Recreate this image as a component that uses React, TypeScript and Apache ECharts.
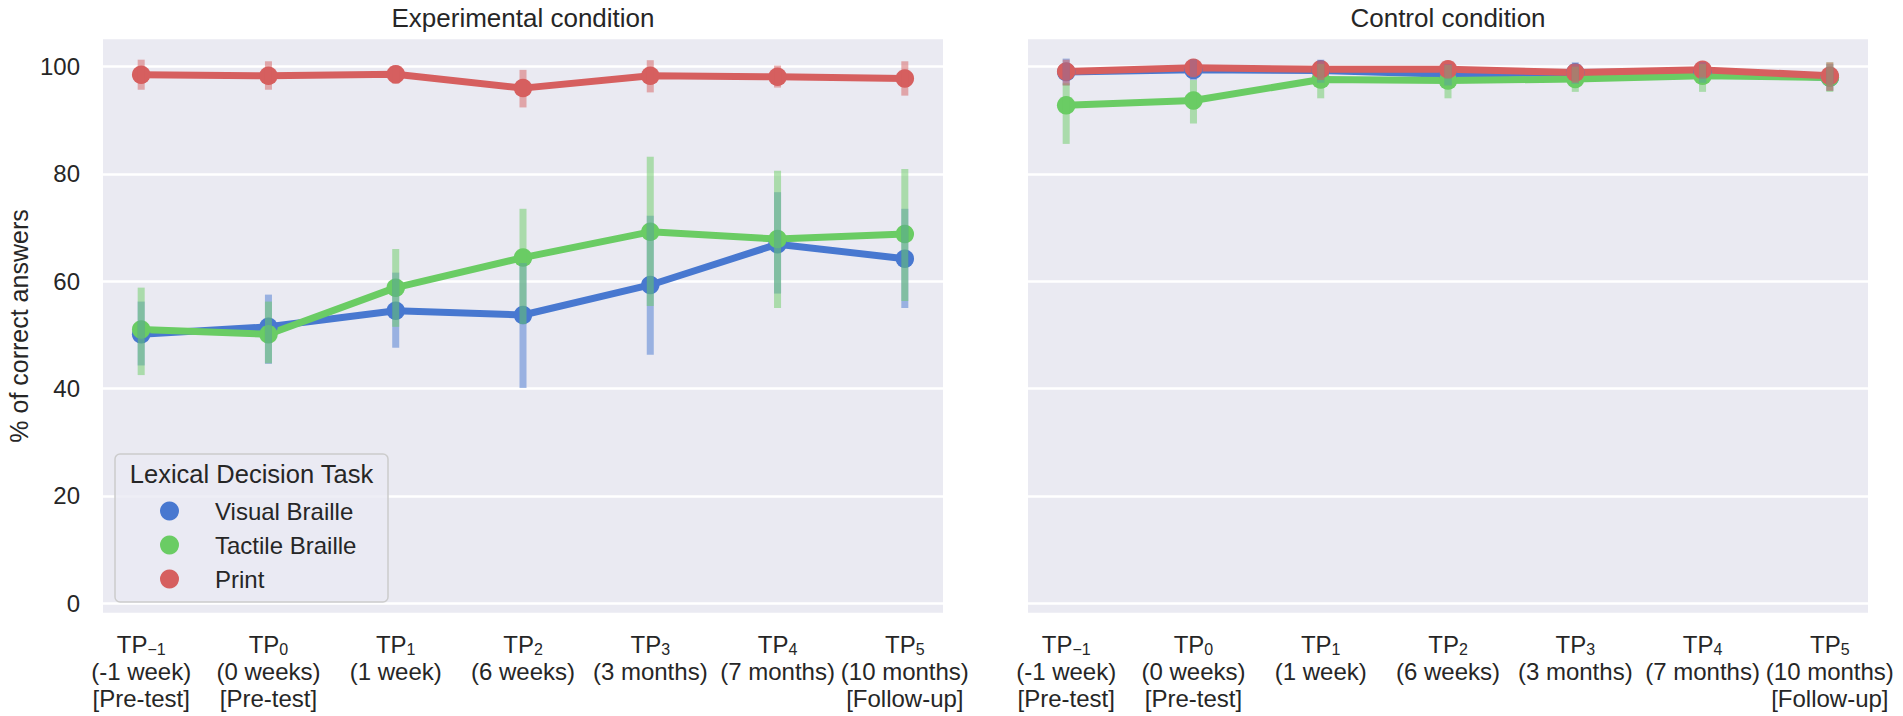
import React, { useEffect, useRef } from "react";
import * as echarts from "echarts";

// ---------- data ----------
const tpNames = ["TP", "TP", "TP", "TP", "TP", "TP", "TP"];
const tpSubs = ["\u22121", "0", "1", "2", "3", "4", "5"];
const tpDelays = ["(-1 week)", "(0 weeks)", "(1 week)", "(6 weeks)", "(3 months)", "(7 months)", "(10 months)"];
const tpPhases = ["[Pre-test]", "[Pre-test]", "", "", "", "", "[Follow-up]"];
const yTicks = [0, 20, 40, 60, 80, 100];
const taskNames = ["Visual Braille", "Tactile Braille", "Print"];
const panelTitles = ["Experimental condition", "Control condition"];
const legendTitle = "Lexical Decision Task";
const yAxisTitle = "% of correct answers";

// Experimental condition
const visualExp = [50.1, 51.5, 54.5, 53.7, 59.3, 66.9, 64.2];
const visualExpLo = [44.3, 44.6, 47.6, 40.1, 46.3, 57.7, 55.0];
const visualExpHi = [56.2, 57.5, 61.6, 63.4, 72.2, 76.6, 73.5];
const tactileExp = [51.0, 50.1, 58.8, 64.4, 69.2, 67.85, 68.8];
const tactileExpLo = [42.5, 44.7, 51.5, 52.0, 55.4, 55.0, 56.3];
const tactileExpHi = [58.8, 56.2, 66.0, 73.5, 83.2, 80.6, 80.9];
const printExp = [98.5, 98.3, 98.6, 96.0, 98.3, 98.1, 97.8];
const printExpLo = [95.7, 95.7, 96.8, 92.4, 95.2, 96.1, 94.6];
const printExpHi = [101.3, 101.0, 100.2, 99.4, 101.2, 100.2, 101.0];

// Control condition
const visualCtl = [99.0, 99.4, 99.3, 98.6, 98.9, 99.0, 98.0];
const visualCtlLo = [96.5, 97.5, 97.0, 96.5, 96.8, 97.0, 95.5];
const visualCtlHi = [101.5, 101.3, 101.3, 100.5, 100.8, 100.8, 100.5];
const tactileCtl = [92.8, 93.7, 97.6, 97.4, 97.7, 98.3, 98.0];
const tactileCtlLo = [85.6, 89.4, 94.1, 94.1, 95.3, 95.3, 95.3];
const tactileCtlHi = [96.9, 97.5, 100.5, 100.3, 100.0, 100.5, 100.8];
const printCtl = [99.1, 99.8, 99.5, 99.5, 98.9, 99.4, 98.3];
const printCtlLo = [96.5, 98.0, 97.5, 97.8, 97.0, 98.0, 95.5];
const printCtlHi = [101.3, 101.3, 101.0, 101.0, 100.5, 100.8, 100.8];

// ---------- style ----------
const COLORS = ["#4878d0", "#6acc64", "#d65f5f"];
const TEXT = "#262626";
const FONT = "'Liberation Sans', Arial, Helvetica, sans-serif";
const BG = "#eaeaf2";
const GRIDS = [
  { left: 103, width: 840 },
  { left: 1028, width: 840 },
];
const GRID_TOP = 39.3;
const GRID_H = 573.4;

export default function App() {
  const ref = useRef<HTMLDivElement>(null);

  useEffect(() => {
    if (!ref.current) return;
    const chart = echarts.init(ref.current, undefined, { renderer: "svg" });

    const panels = [
      {
        means: [visualExp, tactileExp, printExp],
        lows: [visualExpLo, tactileExpLo, printExpLo],
        highs: [visualExpHi, tactileExpHi, printExpHi],
      },
      {
        means: [visualCtl, tactileCtl, printCtl],
        lows: [visualCtlLo, tactileCtlLo, printCtlLo],
        highs: [visualCtlHi, tactileCtlHi, printCtlHi],
      },
    ];

    const xFormatter = (value: number) => {
      const i = Math.round(value);
      const lines = [`${tpNames[i]}{sub|${tpSubs[i]}}`, tpDelays[i]];
      if (tpPhases[i]) lines.push(tpPhases[i]);
      return lines.join("\n");
    };

    const series: any[] = [];
    panels.forEach((panel, p) => {
      panel.means.forEach((vals, h) => {
        series.push({
          type: "line",
          name: taskNames[h],
          xAxisIndex: p,
          yAxisIndex: p,
          data: vals.map((v, i) => [i, v]),
          symbol: "circle",
          symbolSize: 18.5,
          showSymbol: true,
          lineStyle: { width: 7, color: COLORS[h] },
          itemStyle: { color: COLORS[h] },
          emphasis: { disabled: true },
          silent: true,
          z: 2,
        });
      });
      panel.lows.forEach((lows, h) => {
        const color = COLORS[h];
        series.push({
          type: "custom",
          xAxisIndex: p,
          yAxisIndex: p,
          data: lows.map((lo, i) => [i, lo, panel.highs[h][i]]),
          encode: { x: 0, y: [1, 2] },
          silent: true,
          z: 3,
          renderItem: (_params: any, api: any) => {
            const x = api.value(0);
            const top = api.coord([x, api.value(2)]);
            const bot = api.coord([x, api.value(1)]);
            const w = 7;
            return {
              type: "rect",
              shape: { x: top[0] - w / 2, y: top[1], width: w, height: bot[1] - top[1] },
              style: { fill: color, opacity: 0.5 },
            };
          },
        });
      });
    });

    const option: any = {
      animation: false,
      backgroundColor: "#ffffff",
      textStyle: { fontFamily: FONT },
      grid: GRIDS.map((g) => ({
        left: g.left,
        width: g.width,
        top: GRID_TOP,
        height: GRID_H,
        show: true,
        backgroundColor: BG,
        borderWidth: 0,
        containLabel: false,
      })),
      xAxis: GRIDS.map((_g, p) => ({
        type: "value",
        gridIndex: p,
        min: -0.3,
        max: 6.3,
        axisLine: { show: false },
        axisTick: { show: false, customValues: [0, 1, 2, 3, 4, 5, 6] },
        splitLine: { show: false },
        axisLabel: {
          customValues: [0, 1, 2, 3, 4, 5, 6],
          formatter: xFormatter,
          color: TEXT,
          fontSize: 24,
          lineHeight: 27,
          fontFamily: FONT,
          margin: 18,
          rich: {
            sub: {
              fontSize: 16,
              lineHeight: 14,
              verticalAlign: "bottom",
              color: TEXT,
              fontFamily: FONT,
            },
          },
        },
      })),
      yAxis: GRIDS.map((_g, p) => ({
        type: "value",
        gridIndex: p,
        min: -1.8,
        max: 105.1,
        axisLine: { show: false },
        axisTick: { show: false, customValues: yTicks },
        splitLine: { show: true, lineStyle: { color: "#ffffff", width: 2.5 } },
        axisLabel: {
          show: p === 0,
          customValues: yTicks,
          color: TEXT,
          fontSize: 24,
          fontFamily: FONT,
          margin: 23,
        },
        name: p === 0 ? yAxisTitle : "",
        nameLocation: "middle",
        nameGap: 72,
        nameTextStyle: { color: TEXT, fontSize: 25, fontFamily: FONT },
      })),
      legend: {
        data: taskNames,
        orient: "vertical",
        left: 160,
        top: 499,
        padding: 0,
        itemGap: 10,
        itemWidth: 19,
        itemHeight: 19,
        icon: "circle",
        selectedMode: false,
        z: 6,
        textStyle: {
          color: TEXT,
          fontSize: 24,
          lineHeight: 24,
          fontFamily: FONT,
          padding: [0, 0, 0, 31],
        },
      },
      graphic: [
        ...panelTitles.map((t, p) => ({
          type: "text",
          x: GRIDS[p].left + GRIDS[p].width / 2,
          y: 17.6,
          z: 5,
          style: {
            text: t,
            fill: TEXT,
            font: `26px ${FONT}`,
            textAlign: "center",
            textVerticalAlign: "middle",
          },
        })),
        {
          type: "rect",
          z: 4,
          shape: { x: 115, y: 454, width: 273, height: 148, r: 5 },
          style: { fill: "rgba(234,234,242,0.8)", stroke: "#cccccc", lineWidth: 1.5 },
        },
        {
          type: "text",
          x: 251.5,
          y: 474,
          z: 5,
          style: {
            text: legendTitle,
            fill: TEXT,
            font: `25.5px ${FONT}`,
            textAlign: "center",
            textVerticalAlign: "middle",
          },
        },
      ],
      series,
    };

    chart.setOption(option);
    return () => chart.dispose();
  }, []);

  return (
    <div
      ref={ref}
      style={{ position: "absolute", left: 0, top: 0, width: 1903, height: 716 }}
    />
  );
}
